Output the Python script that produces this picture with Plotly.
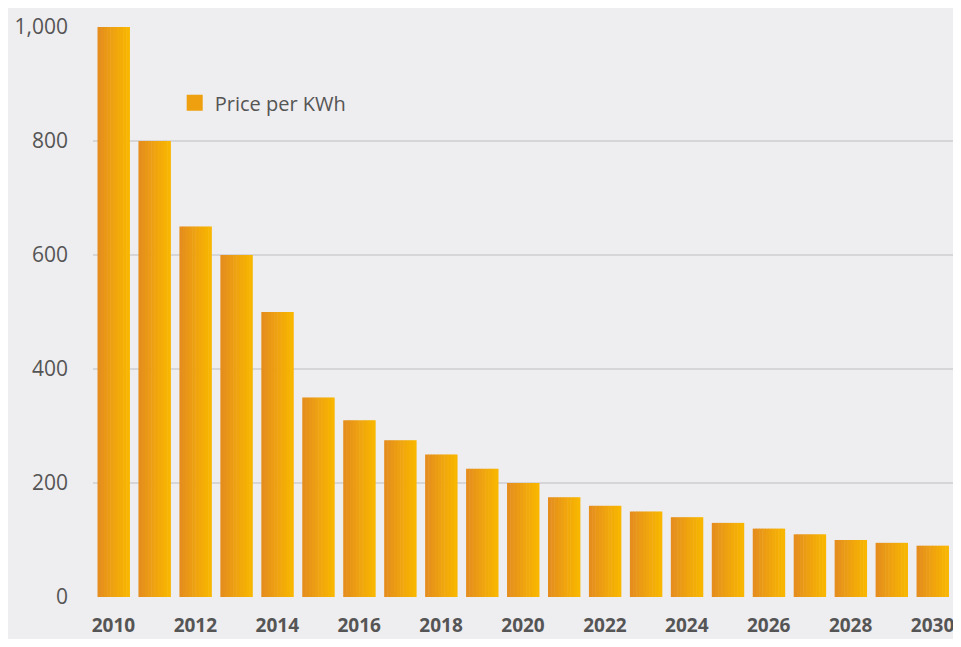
import plotly.graph_objects as go

years = list(range(2010, 2031))
price = [1000, 800, 650, 600, 500, 350, 310, 275, 250, 225, 200,
         175, 160, 150, 140, 130, 120, 110, 100, 95, 90]
tick_years = list(range(2010, 2031, 2))

# horizontal gradient of each bar, left (darker) to right (lighter)
left_col = (229, 142, 30)
right_col = (248, 182, 0)
n_strips = 10
bar_w = 0.78

fig = go.Figure()
for i in range(n_strips):
    t = i / (n_strips - 1)
    c = tuple(round(a + (b - a) * t) for a, b in zip(left_col, right_col))
    w = bar_w / n_strips
    fig.add_trace(go.Bar(
        x=years, y=price,
        width=w * 1.15, offset=-bar_w / 2 + i * w,
        marker=dict(color="rgb(%d,%d,%d)" % c, line=dict(width=0)),
        showlegend=False, hoverinfo="skip",
    ))

# legend entry
fig.add_trace(go.Scatter(
    x=[None], y=[None], mode="markers", name="Price per KWh",
    marker=dict(symbol="square", size=16, color="rgb(238,160,14)"),
))

fig.update_layout(
    width=949, height=631,
    margin=dict(l=85, r=4, t=19, b=42),
    paper_bgcolor="#EEEDEF",
    plot_bgcolor="#EEEDEF",
    barmode="overlay",
    font=dict(family="Open Sans", size=21, color="#555555"),
    showlegend=True,
    legend=dict(x=0.095, y=0.867, xanchor="left", yanchor="middle",
                bgcolor="rgba(0,0,0,0)", font=dict(size=20, color="#555555"),
                itemwidth=30),
    xaxis=dict(
        tickmode="array", tickvals=tick_years, ticktext=[str(y) for y in tick_years],
        range=[2009.5, 2030.5], showgrid=False, zeroline=False, showline=False,
        tickfont=dict(family="Open Sans", size=19, color="#555555", weight="bold"),
        ticks="", ticklabelstandoff=15, automargin=False,
    ),
    yaxis=dict(
        range=[0, 1000], tickvals=[0, 200, 400, 600, 800, 1000],
        tickformat=",", showgrid=True, gridcolor="#D6D5D8", gridwidth=1.5,
        zeroline=False, showline=False, ticks="", ticklabelstandoff=24,
        tickfont=dict(size=21), automargin=False,
    ),
)

fig.write_html("out.html")
